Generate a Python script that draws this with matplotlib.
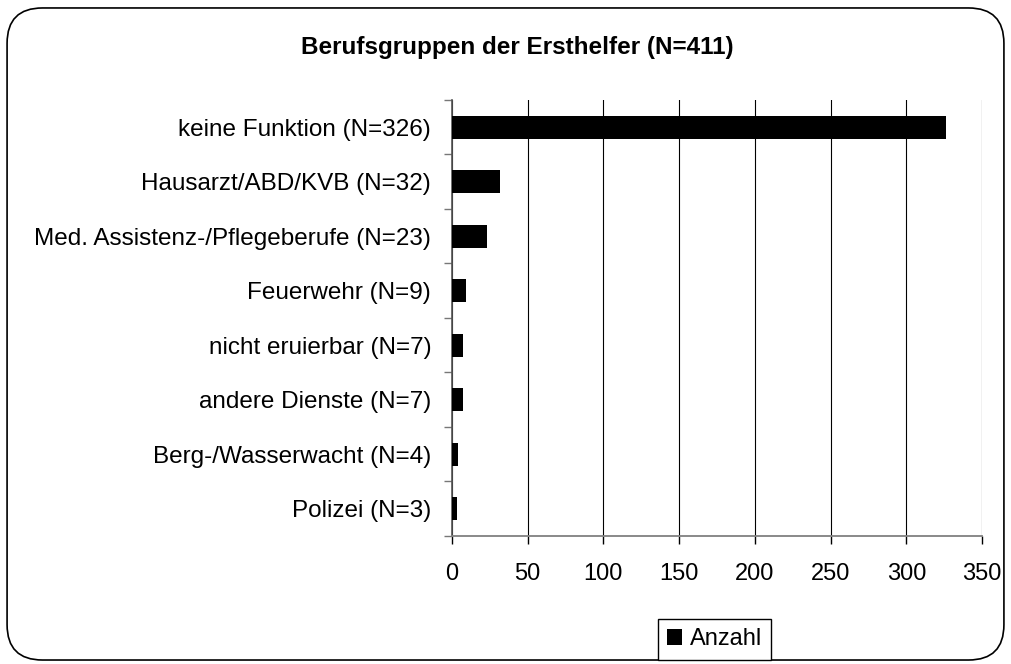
import matplotlib
matplotlib.use("Agg")
import matplotlib.pyplot as plt
from matplotlib.patches import FancyBboxPatch
import numpy as np

plt.rcParams["font.family"] = ["Liberation Sans", "DejaVu Sans"]

categories = [
    "keine Funktion (N=326)",
    "Hausarzt/ABD/KVB (N=32)",
    "Med. Assistenz-/Pflegeberufe (N=23)",
    "Feuerwehr (N=9)",
    "nicht eruierbar (N=7)",
    "andere Dienste (N=7)",
    "Berg-/Wasserwacht (N=4)",
    "Polizei (N=3)",
]
values = [326, 32, 23, 9, 7, 7, 4, 3]
xticks = [0, 50, 100, 150, 200, 250, 300, 350]

fig = plt.figure(figsize=(10.11, 6.64), dpi=100)
ax = fig.add_axes([0.4471, 0.1928, 0.5242, 0.6566])

# rounded chart border
fig.patches.append(FancyBboxPatch((0.007, 0.006), 0.986, 0.982,
                                  boxstyle="round,pad=0,rounding_size=0.035",
                                  transform=fig.transFigure, fill=False,
                                  ec="black", lw=1.2, mutation_aspect=1.52))

n = len(categories)
pos = np.arange(n)
ax.barh(pos, values, height=0.42, color="black", label="Anzahl", zorder=3)
ax.set_ylim(n - 0.5, -0.5)
ax.set_xlim(0, 350)
ax.set_xticks(xticks)
ax.set_yticks(pos)
ax.set_yticklabels(categories, fontsize=17.5)
ax.set_yticks(np.arange(-0.5, n, 1), minor=True)
ax.tick_params(axis="y", which="major", length=0, pad=15)
ax.tick_params(axis="y", which="minor", length=5.8, width=1, color="#777777")
ax.tick_params(axis="x", length=5.8, width=1, labelsize=17, pad=13.5)

ax.grid(axis="x", color="black", lw=0.8, zorder=0)
for s in ("top", "right"):
    ax.spines[s].set_visible(False)
ax.spines["bottom"].set_color("#808080")
ax.spines["left"].set_color("#555555")
ax.spines["bottom"].set_linewidth(1.3)
ax.spines["left"].set_linewidth(1.2)

fig.text(0.512, 0.929, "Berufsgruppen der Ersthelfer (N=411)",
         ha="center", va="center", fontsize=17.5, fontweight="bold")

leg = fig.legend(loc="center", bbox_to_anchor=(0.7067, 0.037), fontsize=17,
                 fancybox=False, edgecolor="black", framealpha=1,
                 handlelength=0.65, handleheight=0.65, handletextpad=0.3,
                 borderpad=0.4, borderaxespad=0)
leg.get_frame().set_linewidth(1.0)

fig.savefig("out.png", dpi=100)
